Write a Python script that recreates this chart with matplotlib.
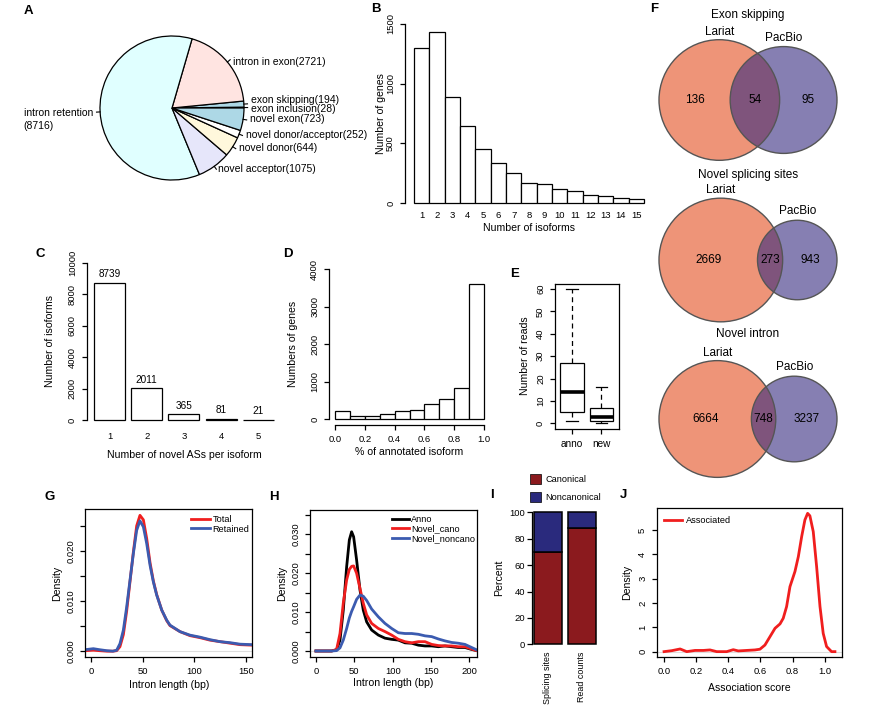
import matplotlib
matplotlib.use("Agg")
import matplotlib.pyplot as plt
import numpy as np
from matplotlib.patches import Circle, Patch

plt.rcParams["font.family"] = ["Liberation Sans", "DejaVu Sans"]

W, H = 882, 707

# ---- panel A: novel AS events (pie, counter-clockwise from 3 o'clock)
pie_names = ["exon inclusion", "exon skipping", "intron in exon", "intron retention",
             "novel acceptor", "novel donor", "novel donor/acceptor", "novel exon"]
pie_counts = [28, 194, 2721, 8716, 1075, 644, 252, 723]
pie_colors = ["white", "lightblue", "mistyrose", "lightcyan",
              "lavender", "cornsilk", "white", "lightblue"]

# ---- panel B: isoforms per gene
b_isoforms = list(range(1, 16))
b_genes = [1300, 1435, 886, 645, 452, 338, 251, 165, 159, 117, 103, 67, 59, 39, 31]

# ---- panel C: novel ASs per isoform
c_n_as = [1, 2, 3, 4, 5]
c_isoforms = [8739, 2011, 365, 81, 21]

# ---- panel D: fraction of annotated isoforms (histogram counts, 0.1 bins)
d_bin_left = [0.0, 0.1, 0.2, 0.3, 0.4, 0.5, 0.6, 0.7, 0.8, 0.9]
d_genes = [205, 71, 89, 143, 205, 232, 393, 536, 821, 3607]

# ---- panel E: reads per isoform (box summaries)
e_groups = ["anno", "new"]
e_whislo = [1, 0]
e_q1 = [5, 1]
e_med = [14, 3]
e_q3 = [27, 7]
e_whishi = [60, 16]

# ---- panel F: Lariat vs PacBio overlaps
f_titles = ["Exon skipping", "Novel splicing sites", "Novel intron"]
f_lariat_only = [136, 2669, 6664]
f_both = [54, 273, 748]
f_pacbio_only = [95, 943, 3237]

# ---- panel G: intron length density
g_len = [-6, 2, 8, 15, 21, 24.6, 27.8, 31.1, 34.3, 37.5, 40.8, 44.0, 47.2, 50.5, 53.7,
         57.0, 60.2, 63.4, 68.3, 73.1, 76.3, 86, 95.7, 105.4, 115.1, 124.8, 134.5, 144.2, 156]
g_retained = [0.0003, 0.0005, 0.0003, 0.0001, 0.0, 0.0002, 0.0015, 0.0042, 0.0088, 0.0141,
              0.0195, 0.0241, 0.0260, 0.0248, 0.0215, 0.0171, 0.0138, 0.0112, 0.0082,
              0.0062, 0.0052, 0.0039, 0.0032, 0.0028, 0.0023, 0.0019, 0.0017, 0.0014, 0.0013]
g_total = [0.0001, 0.0002, 0.0001, 0.0, 0.0, 0.0001, 0.0009, 0.0033, 0.0080, 0.0138,
           0.0198, 0.0250, 0.0271, 0.0262, 0.0225, 0.0176, 0.0140, 0.0113, 0.0082,
           0.0061, 0.0051, 0.0039, 0.0031, 0.0027, 0.0022, 0.0019, 0.0016, 0.0013, 0.0012]

# ---- panel H: intron length density by class
h_len = [0, 20.4, 26.9, 31.3, 35.6, 40, 43.5, 46.5, 49.1, 53, 57.4, 61.7, 66.1, 72.6,
         81.3, 90, 98.7, 107.4, 116.1, 124.8, 133.5, 142.2, 150.9, 159.5, 168.2, 176.9,
         185.6, 194.3, 203, 209.5]
h_anno = [0, 0, 0.0003, 0.0028, 0.0105, 0.0217, 0.0286, 0.0307, 0.0294, 0.0234, 0.0157,
          0.0105, 0.0075, 0.0054, 0.0041, 0.0033, 0.0030, 0.0028, 0.0021, 0.0020, 0.0015,
          0.0013, 0.0013, 0.0011, 0.0013, 0.0011, 0.0009, 0.0009, 0.0004, 0.0001]
h_cano = [0, 0, 0.0004, 0.0045, 0.0123, 0.0183, 0.0210, 0.0218, 0.0219, 0.0200, 0.0161,
          0.0123, 0.0093, 0.0071, 0.0058, 0.0050, 0.0041, 0.0030, 0.0024, 0.0021, 0.0024,
          0.0024, 0.0017, 0.0014, 0.0013, 0.0013, 0.0011, 0.0011, 0.0005, 0.0001]
h_noncano = [0, 0, 0.0001, 0.0008, 0.0028, 0.0058, 0.0085, 0.0102, 0.0114, 0.0133, 0.0144,
             0.0141, 0.0130, 0.0108, 0.0088, 0.0071, 0.0058, 0.0047, 0.0045, 0.0045,
             0.0043, 0.0039, 0.0037, 0.0031, 0.0026, 0.0022, 0.0020, 0.0017, 0.0009, 0.0003]

# ---- panel I: canonical share
i_groups = ["Splicing sites", "Read counts"]
i_canonical = [69.7, 87.9]

# ---- panel J: association score density
j_score = [0.0, 0.048, 0.1, 0.141, 0.193, 0.245, 0.286, 0.328, 0.39, 0.431, 0.462, 0.514,
           0.566, 0.597, 0.628, 0.66, 0.691, 0.722, 0.742, 0.763, 0.784, 0.815, 0.836,
           0.857, 0.877, 0.894, 0.908, 0.929, 0.95, 0.971, 0.991, 1.012, 1.043, 1.064]
j_density = [0, 0.04, 0.11, 0, 0.05, 0.05, 0.07, 0, 0, 0.08, 0.03, 0.05, 0.07, 0.1, 0.27,
             0.62, 0.96, 1.14, 1.37, 1.85, 2.67, 3.29, 3.9, 4.73, 5.41, 5.68, 5.58, 4.93,
             3.49, 1.85, 0.75, 0.21, 0, 0]

RED = "#F01E1E"
BLUE = "#3B5BB0"
TICK = 6.8
LAB = 7.6

fig = plt.figure(figsize=(W / 100, H / 100), dpi=100)


def px_axes(left, top, right, bottom):
    return fig.add_axes([left / W, 1 - bottom / H, (right - left) / W, (bottom - top) / H])


def r_style(ax, box=False):
    for side in ["top", "right"]:
        ax.spines[side].set_visible(box)
    for sp in ax.spines.values():
        sp.set_linewidth(0.9)
    ax.tick_params(direction="out", length=3.6, width=0.9, labelsize=TICK, pad=3.5)


def rot_y(ax):
    plt.setp(ax.get_yticklabels(), rotation=90, va="center")


def put_labels(ax, xlabel=None, ylabel=None, xgap=0, ygap=0, size=LAB):
    bb = ax.get_position()
    if xlabel:
        ax.set_xlabel(xlabel, fontsize=size)
        ax.xaxis.set_label_coords(0.5, -xgap / (bb.height * H))
        ax.xaxis.label.set_va("center")
    if ylabel:
        ax.set_ylabel(ylabel, fontsize=size)
        ax.yaxis.set_label_coords(-ygap / (bb.width * W), 0.5)
        ax.yaxis.label.set_va("center")


def letter(s, x, y):
    fig.text(x / W, 1 - y / H, s, fontsize=9.5, fontweight="bold", ha="center", va="center")


# ---------------- A
ax = px_axes(22, 8, 322, 208)
wedges, _ = ax.pie(pie_counts, colors=pie_colors, startangle=0, counterclock=True,
                   wedgeprops=dict(edgecolor="black", linewidth=0.9))
ax.set_aspect("equal")
ax.set_xlim(-150 / 72, 150 / 72)
ax.set_ylim(-100 / 72, 100 / 72)
ax.axis("off")
nudges = [-0.02, 0.05, -0.06, -0.1, 0.05, 0.03, 0.02, 0.02]
for w, name, n, dy in zip(wedges, pie_names, pie_counts, nudges):
    ang = np.deg2rad((w.theta1 + w.theta2) / 2)
    c, s = np.cos(ang), np.sin(ang)
    ax.plot([c, 1.05 * c], [s, 1.05 * s], color="black", lw=0.8)
    label = f"{name}({n})" if c > 0 else f"{name}\n({n})"
    ax.text(1.1 * c, 1.1 * s + dy, label, ha="left" if c > 0 else "right", va="center",
            fontsize=7.5, multialignment="left", linespacing=1.45, clip_on=False)

# ---------------- B
ax = px_axes(405, 16.8, 653, 210.2)
xb = np.arange(len(b_genes)) + 0.5
ax.bar(xb, b_genes, width=1, color="white", edgecolor="black", linewidth=0.9)
ax.set_xlim(-0.6, len(b_genes) + 0.6)
ax.set_ylim(-60, 1560)
r_style(ax)
ax.spines["bottom"].set_visible(False)
ax.spines["left"].set_bounds(0, 1500)
ax.set_yticks([0, 500, 1000, 1500])
ax.set_xticks(xb, [str(v) for v in b_isoforms])
ax.tick_params(axis="x", length=0, pad=0.5)
rot_y(ax)
put_labels(ax, "Number of isoforms", "Number of genes", 17.8, 24)

# ---------------- C
ax = px_axes(86.8, 256.4, 281, 426.3)
xc = 0.7 + 1.2 * np.arange(len(c_isoforms))
ax.bar(xc, c_isoforms, width=1, color="white", edgecolor="black", linewidth=0.9)
for x, v in zip(xc, c_isoforms):
    ax.annotate(str(v), (x, v), xytext=(0, 6), textcoords="offset points",
                ha="center", va="center", fontsize=7.2)
ax.set_xlim(-0.032, 6.232)
ax.set_ylim(-400, 10400)
r_style(ax)
ax.spines["bottom"].set_visible(False)
ax.spines["left"].set_bounds(0, 10000)
ax.set_yticks(range(0, 10001, 2000))
ax.set_xticks(xc, [str(v) for v in c_n_as])
ax.tick_params(axis="x", length=0, pad=4)
rot_y(ax)
put_labels(ax, "Number of novel ASs per isoform", "Number of isoforms", 28.7, 36.8)

# ---------------- D
ax = px_axes(329, 263, 490, 425)
ax.bar(d_bin_left, d_genes, width=0.1, align="edge", color="white",
       edgecolor="black", linewidth=0.9)
ax.set_xlim(-0.04, 1.04)
ax.set_ylim(-160, 4160)
r_style(ax)
ax.spines["left"].set_bounds(0, 4000)
ax.spines["bottom"].set_bounds(0, 1)
ax.set_yticks(range(0, 4001, 1000))
ax.set_xticks(np.linspace(0, 1, 6), [f"{v:.1f}" for v in np.linspace(0, 1, 6)])
rot_y(ax)
put_labels(ax, "% of annotated isoform", "Numbers of genes", 26.7, 35.7)

# ---------------- E
ax = px_axes(554.9, 283.6, 618.6, 428.7)
stats = [dict(label=g, whislo=lo, q1=a, med=m, q3=b, whishi=hi, fliers=[])
         for g, lo, a, m, b, hi in zip(e_groups, e_whislo, e_q1, e_med, e_q3, e_whishi)]
ax.bxp(stats, positions=[1, 2], widths=0.8, capwidths=0.4, patch_artist=True,
       boxprops=dict(facecolor="white", edgecolor="black", linewidth=0.9),
       medianprops=dict(color="black", linewidth=2.6),
       whiskerprops=dict(color="black", linewidth=0.9, linestyle=(0, (4, 3))),
       capprops=dict(color="black", linewidth=0.9))
ax.set_xlim(0.42, 2.58)
ax.set_ylim(-2.4, 62.4)
r_style(ax, box=True)
ax.set_yticks(range(0, 61, 10))
ax.set_xticks([1, 2], e_groups)
ax.tick_params(axis="x", labelsize=7.2, pad=4)
rot_y(ax)
put_labels(ax, None, "Number of reads", 0, 29.9)


# ---------------- F
def lens_area(r1, r2, d):
    if d >= r1 + r2:
        return 0.0
    if d <= abs(r1 - r2):
        return np.pi * min(r1, r2) ** 2
    a1 = np.arccos((d * d + r1 * r1 - r2 * r2) / (2 * d * r1))
    a2 = np.arccos((d * d + r2 * r2 - r1 * r1) / (2 * d * r2))
    k = np.sqrt((-d + r1 + r2) * (d + r1 - r2) * (d - r1 + r2) * (d + r1 + r2))
    return r1 * r1 * a1 + r2 * r2 * a2 - 0.5 * k


def solve_distance(r1, r2, target):
    lo, hi = abs(r1 - r2), r1 + r2
    for _ in range(80):
        mid = (lo + hi) / 2
        if lens_area(r1, r2, mid) > target:
            lo = mid
        else:
            hi = mid
    return (lo + hi) / 2


axf = px_axes(600, 0, 882, 480)
axf.set_xlim(600, 882)
axf.set_ylim(480, 0)
axf.axis("off")
venn_cy = [100, 260, 419]
for title, a, both, b, cy in zip(f_titles, f_lariat_only, f_both, f_pacbio_only, venn_cy):
    n1, n2 = a + both, b + both
    r1, r2 = 1.0, np.sqrt(n2 / n1)
    d = solve_distance(r1, r2, both / n1 * np.pi)
    s = 178 / (r1 + d + r2)
    x0 = 748 - 89
    c1, c2 = x0 + s * r1, x0 + s * (r1 + d)
    R1, R2 = s * r1, s * r2
    axf.add_patch(Circle((c1, cy), R1, facecolor="#E34D1E", alpha=0.6, edgecolor="none"))
    axf.add_patch(Circle((c2, cy), R2, facecolor="#352A7F", alpha=0.6, edgecolor="none"))
    axf.add_patch(Circle((c1, cy), R1, fill=False, edgecolor="#555555", linewidth=1))
    axf.add_patch(Circle((c2, cy), R2, fill=False, edgecolor="#555555", linewidth=1))
    lens_l, lens_r = c2 - R2, c1 + R1
    kw = dict(ha="center", va="center", fontsize=8.5)
    axf.text((x0 + lens_l) / 2, cy, str(a), **kw)
    axf.text((lens_l + lens_r) / 2, cy, str(both), **kw)
    axf.text((lens_r + c2 + R2) / 2, cy, str(b), **kw)
    axf.text(c1, cy - R1 - 8, "Lariat", **kw)
    axf.text(c2, cy - R2 - 9, "PacBio", **kw)
    axf.text(748, cy - 85, title, **kw)

# ---------------- G
ax = px_axes(85.3, 509.3, 252.3, 656.7)
ax.axhline(0, color="#DDDDDD", lw=0.8)
ax.plot(g_len, g_total, color=RED, lw=2.0, label="Total")
ax.plot(g_len, g_retained, color=BLUE, lw=2.0, label="Retained")
ax.set_xlim(-5.8, 156.1)
ax.set_ylim(-0.0011, 0.0283)
r_style(ax, box=True)
ax.set_xticks([0, 50, 100, 150])
ax.set_yticks(np.arange(0, 0.0251, 0.005),
              ["0.000", "", "0.010", "", "0.020", ""])
rot_y(ax)
ax.legend(loc="upper right", bbox_to_anchor=(0.982, 0.961), frameon=False, fontsize=6.6,
          handlelength=2.1, handletextpad=0.25, labelspacing=0.05, borderpad=0,
          borderaxespad=0)
put_labels(ax, "Intron length (bp)", "Density", 28.3, 28.6)

# ---------------- H
ax = px_axes(310, 510, 476.7, 656.7)
ax.axhline(0, color="#DDDDDD", lw=0.8)
ax.plot(h_len, h_anno, color="black", lw=2.0, label="Anno")
ax.plot(h_len, h_cano, color=RED, lw=2.0, label="Novel_cano")
ax.plot(h_len, h_noncano, color=BLUE, lw=2.0, label="Novel_noncano")
ax.set_xlim(-7.8, 209.6)
ax.set_ylim(-0.00147, 0.0363)
r_style(ax, box=True)
ax.set_xticks([0, 50, 100, 150, 200])
ax.set_yticks(np.arange(0, 0.0351, 0.005),
              ["0.000", "", "0.010", "", "0.020", "", "0.030", ""])
rot_y(ax)
ax.legend(loc="upper right", bbox_to_anchor=(0.99, 0.966), frameon=False, fontsize=6.6,
          handlelength=1.85, handletextpad=0.2, labelspacing=0.05, borderpad=0,
          borderaxespad=0)
put_labels(ax, "Intron length (bp)", "Density", 26.6, 28.3)

# ---------------- I
ax = px_axes(531.5, 507, 598, 649.6)
xi = [0.7, 1.9]
non = [100 - v for v in i_canonical]
ax.bar(xi, i_canonical, width=1, color="#8B1A1E", edgecolor="black", linewidth=1.1)
ax.bar(xi, non, width=1, bottom=i_canonical, color="#2A2A7D", edgecolor="black",
       linewidth=1.1)
ax.set_xlim(0.112, 2.488)
ax.set_ylim(-4, 104)
r_style(ax)
ax.spines["bottom"].set_visible(False)
ax.spines["left"].set_bounds(0, 100)
ax.set_yticks(range(0, 101, 20))
ax.tick_params(axis="y", pad=1)
ax.set_xticks(xi, i_groups, rotation=90, fontsize=6.4)
ax.tick_params(axis="x", length=0, pad=1.5)
ax.legend(handles=[Patch(facecolor="#8B1A1E", edgecolor="black", linewidth=0.5, label="Canonical"),
                   Patch(facecolor="#2A2A7D", edgecolor="black", linewidth=0.5, label="Noncanonical")],
          loc="upper left", bbox_to_anchor=(-0.02, 1.23), frameon=False, fontsize=6.6,
          handlelength=1.2, handleheight=1.2, handletextpad=0.45, labelspacing=0.9,
          borderpad=0, borderaxespad=0)
put_labels(ax, None, "Percent", 0, 32.2)

# ---------------- J
ax = px_axes(657, 508, 842, 657)
ax.axhline(0, color="#DDDDDD", lw=0.8)
ax.plot(j_score, j_density, color=RED, lw=2.0, label="Associated")
ax.set_xlim(-0.044, 1.108)
ax.set_ylim(-0.22, 5.9)
r_style(ax, box=True)
ax.set_xticks(np.linspace(0, 1, 6), [f"{v:.1f}" for v in np.linspace(0, 1, 6)])
ax.set_yticks(range(0, 6))
rot_y(ax)
ax.legend(loc="upper left", bbox_to_anchor=(0.038, 0.948), frameon=False, fontsize=6.6,
          handlelength=2.0, handletextpad=0.4, borderpad=0, borderaxespad=0)
put_labels(ax, "Association score", "Density", 31.3, 30.3)

for s, x, y in [("A", 28.5, 10.5), ("B", 375.5, 9.5), ("F", 654.5, 9.5), ("C", 40.5, 254.5),
                ("D", 287.5, 254.5), ("E", 515, 274), ("G", 49.5, 496.5), ("H", 273.5, 496.5),
                ("I", 491.5, 495.5), ("J", 623.5, 495.5)]:
    letter(s, x, y)

fig.savefig("out.png", dpi=100)
